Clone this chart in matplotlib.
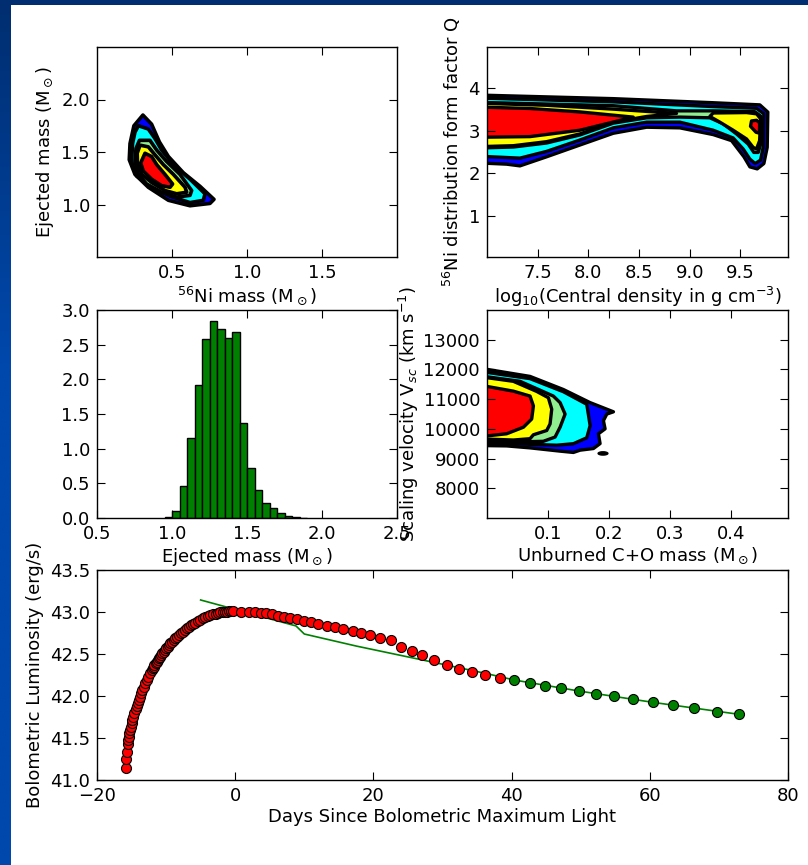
import matplotlib
matplotlib.use('Agg')
import matplotlib.pyplot as plt
import numpy as np
from matplotlib.patches import Ellipse

plt.rcParams['font.family'] = ['DejaVu Sans']
plt.rcParams['font.size'] = 13
plt.rcParams['mathtext.fontset'] = 'dejavusans'

# ---------------- DATA ----------------
# Panel 1: 56Ni mass vs ejected mass, credible-region outlines (outer -> inner)
ni_mej_blue = [(0.306,1.852),(0.364,1.765),(0.416,1.596),(0.476,1.457),(0.576,1.302),(0.687,1.173),
               (0.780,1.049),(0.753,1.010),(0.620,0.988),(0.476,1.040),(0.342,1.164),(0.253,1.287),
               (0.215,1.426),(0.220,1.580),(0.246,1.750)]
ni_mej_cyan = [(0.276,1.750),(0.342,1.719),(0.387,1.627),(0.431,1.518),(0.509,1.380),(0.620,1.241),
               (0.720,1.102),(0.709,1.040),(0.620,1.018),(0.487,1.080),(0.353,1.179),(0.264,1.271),
               (0.231,1.410),(0.237,1.580),(0.253,1.688)]
ni_mej_green = [(0.283,1.611),(0.353,1.611),(0.398,1.518),(0.464,1.410),(0.553,1.287),(0.631,1.133),
                (0.620,1.087),(0.531,1.071),(0.431,1.117),(0.331,1.195),(0.276,1.287),(0.253,1.410),
                (0.260,1.534)]
ni_mej_yellow = [(0.287,1.565),(0.342,1.549),(0.387,1.472),(0.442,1.380),(0.509,1.287),(0.587,1.164),
                 (0.598,1.117),(0.531,1.102),(0.453,1.133),(0.364,1.210),(0.298,1.287),(0.270,1.395),
                 (0.268,1.488)]
ni_mej_red = [(0.320,1.488),(0.364,1.457),(0.398,1.380),(0.453,1.287),(0.504,1.195),(0.487,1.164),
              (0.431,1.179),(0.364,1.241),(0.309,1.318),(0.291,1.395)]

# Panel 2: central density vs Q
rho_q_blue = [(6.9,3.830),(8.246,3.745),(9.232,3.650),(9.692,3.600),(9.771,3.431),(9.765,2.608),
              (9.732,2.231),(9.666,2.106),(9.594,2.153),(9.535,2.388),(9.413,2.765),(9.232,2.906),
              (8.903,3.063),(8.575,3.078),(8.246,2.937),(7.917,2.663),(7.588,2.388),(7.325,2.176),
              (7.194,2.216),(6.9,2.247)]
rho_q_cyan = [(6.9,3.760),(8.246,3.670),(9.232,3.560),(9.659,3.520),(9.732,3.392),(9.725,2.608),
              (9.699,2.310),(9.646,2.231),(9.594,2.333),(9.528,2.569),(9.429,2.827),(9.232,3.008),
              (8.903,3.196),(8.575,3.196),(8.246,3.063),(7.917,2.780),(7.588,2.514),(7.325,2.357),
              (6.9,2.404)]
rho_q_green = [(6.9,3.660),(8.246,3.580),(8.870,3.460),(9.232,3.460),(9.643,3.440),(9.705,3.329),
               (9.700,2.686),(9.676,2.490),(9.633,2.490),(9.577,2.686),(9.462,2.922),(9.331,3.157),
               (9.199,3.298),(8.903,3.314),(8.575,3.298),(8.246,3.173),(7.917,2.898),(7.588,2.710),
               (7.260,2.616),(6.9,2.592)]
rho_q_yellow_a = [(6.9,3.640),(7.588,3.590),(8.246,3.500),(8.870,3.400),(8.575,3.329),(8.246,3.196),
                  (7.917,2.922),(7.588,2.741),(7.260,2.647),(6.9,2.624)]
rho_q_yellow_b = [(9.232,3.410),(9.561,3.420),(9.660,3.390),(9.700,3.275),(9.690,2.765),(9.659,2.569),
                  (9.626,2.608),(9.561,2.804),(9.429,3.008),(9.298,3.196),(9.199,3.329)]
rho_q_red_a = [(6.9,3.550),(7.424,3.515),(7.917,3.435),(8.443,3.314),(7.917,3.008),(7.424,2.859),
               (6.9,2.843)]
rho_q_red_b = [(9.610,3.225),(9.660,3.240),(9.690,3.180),(9.688,2.940),(9.655,2.960),(9.600,3.100)]

# Panel 3: ejected-mass histogram
hist_left_edges = [0.95,1.00,1.05,1.10,1.15,1.20,1.25,1.30,1.35,1.40,1.45,1.50,1.55,1.60,1.65,1.70,1.75,1.80,1.85]
hist_heights = [0.01,0.10,0.466,1.152,1.92,2.583,2.847,2.722,2.602,2.688,1.368,0.72,0.398,0.216,0.139,0.072,0.034,0.014,0.005]
hist_width = 0.05

# Panel 4: unburned C+O mass vs scaling velocity
co_v_blue = [(-0.017,12060),(0.0705,11765),(0.1251,11324),(0.1689,10883),(0.2071,10574),(0.1962,10497),
             (0.1907,10276),(0.1934,10000),(0.1825,9835),(0.1852,9504),(0.1743,9338),(0.1525,9283),
             (0.1415,9206),(0.1197,9250),(0.0705,9360),(0.0322,9426),(-0.017,9440)]
co_v_cyan = [(-0.017,11950),(0.0705,11690),(0.1251,11250),(0.1634,10828),(0.1689,10110),(0.1634,9700),
             (0.1415,9500),(0.1142,9450),(0.0705,9480),(0.0322,9510),(-0.017,9537)]
co_v_green = [(-0.017,11800),(0.0541,11600),(0.1087,11103),(0.1197,10883),(0.1279,10497),(0.1197,10055),
              (0.1115,9724),(0.0923,9581),(0.0705,9570),(0.0322,9570),(-0.017,9590)]
co_v_yellow = [(-0.017,11770),(0.0432,11600),(0.0814,11260),(0.1005,11048),(0.1060,10662),(0.1033,10166),
               (0.0978,9945),(0.0760,9801),(0.0705,9669),(0.0432,9624),(-0.017,9669)]
co_v_red = [(-0.017,11490),(0.0432,11269),(0.0705,11103),(0.0760,10772),(0.0732,10331),(0.0596,10055),
            (0.0322,9835),(-0.017,9724)]
co_v_islet = (0.190, 9173)

# Panel 5: bolometric light curve
red_days = [-15.86,-15.82,-15.72,-15.57,-15.46,-15.38,-15.30,-15.24,-15.12,-15.00,-14.88,-14.76,-14.60,
            -14.42,-14.28,-14.13,-13.97,-13.80,-13.63,-13.46,-13.27,-13.07,-12.83,-12.59,-12.35,-12.11,
            -11.96,-11.82,-11.68,-11.53,-11.38,-11.22,-11.07,-10.91,-10.73,-10.55,-10.37,-10.19,-9.98,
            -9.78,-9.58,-9.37,-9.13,-8.89,-8.65,-8.41,-8.13,-7.85,-7.58,-7.30,-7.00,-6.70,-6.40,-6.10,
            -5.75,-5.40,-5.03,-4.66,-4.30,-3.94,-3.58,-3.21,-2.85,-2.50,-2.13,-1.77,-1.47,-1.17,-0.87,
            -0.57,-0.27,
            0.88,1.98,2.90,3.67,4.48,5.35,6.17,7.03,7.99,8.91,10.01,10.98,12.03,13.24,14.44,15.64,
            16.99,18.19,19.54,20.93,22.52,23.96,25.55,27.09,28.80,30.65,32.38,34.30,36.20,38.30]
red_lum = [41.147,41.246,41.337,41.429,41.480,41.516,41.560,41.595,41.635,41.675,41.715,41.754,41.800,
           41.841,41.878,41.913,41.953,41.992,42.032,42.071,42.111,42.151,42.190,42.230,42.270,42.310,
           42.330,42.350,42.370,42.389,42.409,42.429,42.449,42.468,42.488,42.508,42.528,42.548,42.568,
           42.588,42.608,42.627,42.647,42.667,42.687,42.706,42.726,42.746,42.766,42.786,42.804,42.822,
           42.840,42.857,42.875,42.892,42.909,42.925,42.938,42.950,42.962,42.972,42.981,42.988,42.995,
           43.000,43.003,43.005,43.007,43.008,43.010,
           43.004,43.004,43.000,42.992,42.984,42.972,42.956,42.944,42.925,42.913,42.897,42.877,42.853,
           42.837,42.817,42.794,42.774,42.746,42.722,42.694,42.663,42.585,42.540,42.486,42.429,42.373,
           42.323,42.286,42.248,42.218]
green_days = [40.41,42.63,44.89,47.15,49.70,52.20,54.89,57.59,60.42,63.36,66.44,69.66,72.88]
green_lum = [42.187,42.155,42.123,42.095,42.060,42.028,41.996,41.964,41.925,41.889,41.853,41.813,41.782]
model_days = [-5.0,8.8,10.0,17.5,27.1,36.2,40.4,49.7,60.4,72.9]
model_lum = [43.143,42.834,42.738,42.595,42.429,42.270,42.190,42.060,41.925,41.782]

# ---------------- FIGURE ----------------
W, H = 808, 865
fig = plt.figure(figsize=(W/100, H/100), dpi=100)
fig.patch.set_facecolor('white')

# slide background strips
bg = fig.add_axes([0, 0, 1, 1], zorder=-10)
bg.set_xlim(0, W); bg.set_ylim(H, 0); bg.axis('off')
grad = np.linspace(0, 1, 256)
top_c = np.array([0, 46, 112]) / 255.0
mid_c = np.array([0, 72, 172]) / 255.0
col = np.clip(grad[:, None] * 2.4, 0, 1)
img = (top_c[None, :] * (1 - col) + mid_c[None, :] * col)[:, None, :]
bg.imshow(img, extent=[0, 11, H, 0], aspect='auto', interpolation='bilinear')
bg.add_patch(plt.Rectangle((0, 0), W, 5, color=top_c, lw=0))


def px_axes(x0, y0, x1, y1):
    return fig.add_axes([x0 / W, 1 - y1 / H, (x1 - x0) / W, (y1 - y0) / H])


def style(ax):
    ax.tick_params(direction='in', top=True, right=True, length=5.5, width=0.8,
                   labelsize=13, pad=5)
    for s in ax.spines.values():
        s.set_linewidth(1.0)


def draw_regions(ax, regions, lw=2.4):
    for color, poly in regions:
        xs = [p[0] for p in poly]
        ys = [p[1] for p in poly]
        ax.fill(xs, ys, facecolor=color, edgecolor='black', linewidth=lw,
                joinstyle='round')


BLUE, CYAN, LGREEN, YELLOW, RED = '#0000ff', '#00ffff', '#90ee90', '#ffff00', '#ff0000'

# Panel 1
ax1 = px_axes(97, 47, 397, 257)
draw_regions(ax1, [(BLUE, ni_mej_blue), (CYAN, ni_mej_cyan), (LGREEN, ni_mej_green),
                   (YELLOW, ni_mej_yellow), (RED, ni_mej_red)], lw=2.6)
ax1.set_xlim(0, 2.0); ax1.set_ylim(0.5, 2.5)
ax1.set_xticks([0.5, 1.0, 1.5]); ax1.set_yticks([1.0, 1.5, 2.0])
ax1.set_xticklabels(['0.5', '1.0', '1.5']); ax1.set_yticklabels(['1.0', '1.5', '2.0'])
ax1.set_xlabel(r'$^{56}$Ni mass (M$_\odot$)', labelpad=2)
ax1.set_ylabel(r'Ejected mass (M$_\odot$)')
style(ax1)

# Panel 2
ax2 = px_axes(487, 47, 788, 257)
draw_regions(ax2, [(BLUE, rho_q_blue), (CYAN, rho_q_cyan), (LGREEN, rho_q_green),
                   (YELLOW, rho_q_yellow_a), (YELLOW, rho_q_yellow_b),
                   (RED, rho_q_red_a), (RED, rho_q_red_b)])
ax2.set_xlim(7.0, 9.97); ax2.set_ylim(0.05, 4.95)
ax2.set_xticks([7.5, 8.0, 8.5, 9.0, 9.5]); ax2.set_yticks([1, 2, 3, 4])
ax2.set_xlabel(r'log$_{10}$(Central density in g cm$^{-3}$)', labelpad=2)
ax2.set_ylabel(r'$^{56}$Ni distribution form factor Q')
style(ax2)

# Panel 3
ax3 = px_axes(97, 310, 397, 518)
ax3.bar(hist_left_edges, hist_heights, width=hist_width, align='edge',
        color='#008000', edgecolor='black', linewidth=1.0)
ax3.set_xlim(0.5, 2.5); ax3.set_ylim(0, 3.0)
ax3.set_xticks([0.5, 1.0, 1.5, 2.0, 2.5])
ax3.set_yticks([0.0, 0.5, 1.0, 1.5, 2.0, 2.5, 3.0])
ax3.set_xticklabels(['0.5', '1.0', '1.5', '2.0', '2.5'])
ax3.set_yticklabels(['0.0', '0.5', '1.0', '1.5', '2.0', '2.5', '3.0'])
ax3.set_xlabel(r'Ejected mass (M$_\odot$)', labelpad=2)
style(ax3)

# Panel 4
ax4 = px_axes(487, 310, 788, 518)
draw_regions(ax4, [(BLUE, co_v_blue), (CYAN, co_v_cyan), (LGREEN, co_v_green),
                   (YELLOW, co_v_yellow), (RED, co_v_red)])
ax4.add_patch(Ellipse(co_v_islet, 0.016, 110, facecolor='black', edgecolor='black'))
ax4.set_xlim(0, 0.493); ax4.set_ylim(7000, 14000)
ax4.set_xticks([0.1, 0.2, 0.3, 0.4])
ax4.set_yticks([8000, 9000, 10000, 11000, 12000, 13000])
ax4.set_xlabel(r'Unburned C+O mass (M$_\odot$)', labelpad=2)
ax4.set_ylabel(r'Scaling velocity V$_{sc}$ (km s$^{-1}$)', labelpad=2)
style(ax4)

# Panel 5
ax5 = px_axes(97, 570, 788, 780)
ax5.plot(model_days, model_lum, color='#008000', lw=1.2, zorder=2)
ax5.plot(red_days, red_lum, 'o', color='#ff0000', mec='black', mew=0.8, ms=7.2, zorder=3)
ax5.plot(green_days, green_lum, 'o', color='#008000', mec='black', mew=0.8, ms=7.2, zorder=3)
ax5.set_xlim(-20, 80); ax5.set_ylim(41.0, 43.5)
ax5.set_xticks([-20, 0, 20, 40, 60, 80])
ax5.set_yticks([41.0, 41.5, 42.0, 42.5, 43.0, 43.5])
ax5.set_yticklabels(['41.0', '41.5', '42.0', '42.5', '43.0', '43.5'])
ax5.set_xlabel('Days Since Bolometric Maximum Light', labelpad=2)
ax5.set_ylabel('Bolometric Luminosity (erg/s)')
style(ax5)

fig.savefig('out.png', dpi=100)
